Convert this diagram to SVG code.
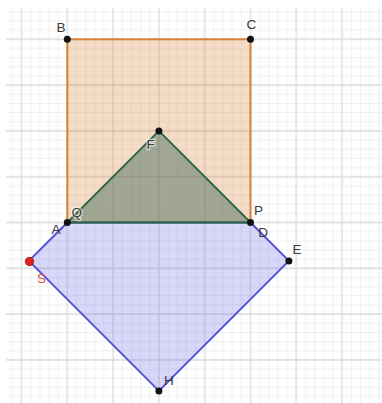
<svg xmlns="http://www.w3.org/2000/svg" width="382" height="403" viewBox="0 0 382 403">
<defs>
<pattern id="grid" patternUnits="userSpaceOnUse" x="-1.4" y="16.4" width="45.8" height="45.8">
<g stroke="#f0f0f0" stroke-width="1">
<line x1="4.58" y1="0" x2="4.58" y2="45.8"/><line x1="13.74" y1="0" x2="13.74" y2="45.8"/><line x1="32.06" y1="0" x2="32.06" y2="45.8"/><line x1="41.22" y1="0" x2="41.22" y2="45.8"/>
<line y1="4.58" x1="0" y2="4.58" x2="45.8"/><line y1="13.74" x1="0" y2="13.74" x2="45.8"/><line y1="32.06" x1="0" y2="32.06" x2="45.8"/><line y1="41.22" x1="0" y2="41.22" x2="45.8"/>
</g>
<g stroke="#dadada" stroke-width="1.3">
<line x1="22.9" y1="0" x2="22.9" y2="45.8"/><line y1="22.9" x1="0" y2="22.9" x2="45.8"/>
</g>
</pattern>
<style>
.lbl{font-family:"Liberation Sans",Arial,sans-serif;font-size:13.5px;fill:#3a3a3a}
.halo{stroke:#ffffff;stroke-width:2.5;stroke-opacity:0.6;paint-order:stroke}
.pt{fill:#111111}
</style>
</defs>
<rect x="0" y="0" width="382" height="403" fill="#ffffff"/>
<rect x="6" y="8" width="376" height="395" fill="url(#grid)"/>
<g id="connectors">
<g id="square-BCDA">
<polygon points="67.3,39.3 250.5,39.3 250.5,222.5 67.3,222.5" fill="#d9731b" fill-opacity="0.25" stroke="#d4843c" stroke-width="2"/>
</g>
<g id="pentagon-SADEH">
<polygon points="28.9,260.9 67.3,222.5 250.5,222.5 288.9,260.9 158.9,390.9" fill="#6060e8" fill-opacity="0.25" stroke="#5252d8" stroke-width="2" stroke-linejoin="round"/>
</g>
<g id="triangle-QFP">
<polygon points="67.3,222.5 158.9,130.9 250.5,222.5" fill="#3f6458" fill-opacity="0.45" stroke="#2d6a45" stroke-width="2" stroke-linejoin="round"/>
</g>
</g>
<g id="node-B"><circle class="pt" cx="67.3" cy="39.3" r="3.5"/><text class="lbl" x="56.5" y="31.7">B</text></g>
<g id="node-C"><circle class="pt" cx="250.5" cy="39.3" r="3.5"/><text class="lbl" x="246.5" y="29.3">C</text></g>
<g id="node-F"><circle class="pt" cx="158.9" cy="130.9" r="3.5"/><text class="lbl halo" x="146.5" y="149.3">F</text></g>
<g id="node-Q"><text class="lbl halo" x="71.5" y="216.7">Q</text></g>
<g id="node-A"><circle class="pt" cx="67.3" cy="222.5" r="3.5"/><text class="lbl" x="51.5" y="234">A</text></g>
<g id="node-P"><text class="lbl" x="254" y="215">P</text></g>
<g id="node-D"><circle class="pt" cx="250.5" cy="222.5" r="3.5"/><text class="lbl" x="258.3" y="236.6">D</text></g>
<g id="node-E"><circle class="pt" cx="288.9" cy="260.9" r="3.5"/><text class="lbl" x="292.5" y="254.3">E</text></g>
<g id="node-S"><circle cx="29.5" cy="261.5" r="4.2" fill="#e02020" stroke="#8a1010" stroke-width="0.8"/><text class="lbl" x="37" y="282.6" style="fill:#e05050">S</text></g>
<g id="node-H"><circle class="pt" cx="158.9" cy="390.9" r="3.5"/><text class="lbl" x="164" y="385.3">H</text></g>
</svg>
